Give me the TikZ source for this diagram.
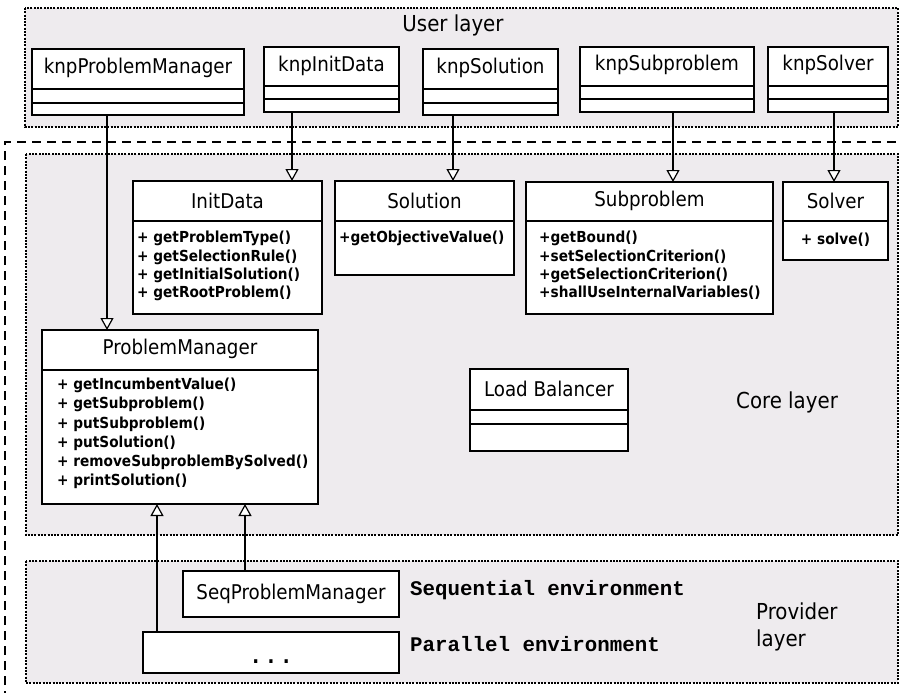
\documentclass[tikz,border=0pt]{standalone}
\usepackage{fontspec}
\setmainfont{DejaVu Sans Condensed}
\newfontfamily\codefont{Liberation Mono}
\usetikzlibrary{arrows.meta}

\definecolor{layerbg}{RGB}{238,235,238}

\tikzset{
  layerbox/.style={fill=layerbg, draw=black, line width=2.4pt, dash pattern=on 2pt off 1.3pt},
  outerframe/.style={draw=black, line width=2pt, dash pattern=on 9pt off 6pt},
  classbox/.style={draw=black, fill=white, line width=2.4pt, inner sep=0pt, outer sep=0pt, anchor=north west},
  sepline/.style={line width=2pt},
  clsname/.style={font=\fontsize{20.3}{23}\selectfont, inner sep=0pt},
  methods/.style={font=\bfseries\fontsize{15.2}{18.4}\selectfont, align=left, anchor=north west, inner sep=0pt},
  layerlabel/.style={font=\fontsize{22}{27}\selectfont, inner sep=0pt, align=left},
  envlabel/.style={font=\codefont\bfseries\fontsize{20.8}{24}\selectfont, anchor=west, inner sep=0pt},
  gen/.style={line width=1.2pt, -{Triangle[open, width=13pt, length=12pt, line width=1.2pt, fill=white]}},
  genthick/.style={gen, line width=2.2pt},
}

% class box: name, left, top, width, height
\newcommand\umlbox[5]{\node[classbox, minimum width=#4, minimum height=#5] (#1) at (#2,#3) {};}
% compartment divider across a box at a given depth
\newcommand\umlsep[2]{\draw[sepline] (#1.west |- 0,#2) -- (#1.east |- 0,#2);}

\begin{document}
\begin{tikzpicture}[x=1pt,y=-1pt]
\useasboundingbox (0,0) rectangle (902,693);

% layers
\draw[layerbox] (25,8) rectangle (898,127);
\draw[layerbox] (26,154) rectangle (898,535);
\draw[layerbox] (26,561) rectangle (898,683);
\draw[outerframe] (5,700) -- (5,142) -- (910,142);

\node[layerlabel] (userL) at (453,25) {User layer};
\node[layerlabel, anchor=west] (coreL) at (736,402) {Core layer};
\node[layerlabel, anchor=north west] (provL) at (756,603) {Provider\\layer};

% user layer classes
\umlbox{kpm}{32}{49}{212}{66}
\umlsep{kpm}{89}\umlsep{kpm}{103}
\node[clsname] (kpmT) at (138,68) {knpProblemManager};

\umlbox{kid}{264}{47}{135}{65}
\umlsep{kid}{86}\umlsep{kid}{99}
\node[clsname] (kidT) at (331.5,66) {knpInitData};

\umlbox{ksol}{423}{49}{135}{66}
\umlsep{ksol}{89}\umlsep{ksol}{103}
\node[clsname] (ksolT) at (490.5,68) {knpSolution};

\umlbox{ksub}{580}{47}{174}{65}
\umlsep{ksub}{86}\umlsep{ksub}{99}
\node[clsname] (ksubT) at (667,65) {knpSubproblem};

\umlbox{ksv}{768}{47}{120}{65}
\umlsep{ksv}{86}\umlsep{ksv}{99}
\node[clsname] (ksvT) at (828,65) {knpSolver};

% core layer classes
\umlbox{id}{133}{181}{189}{133}
\umlsep{id}{221}
\node[clsname] (idT) at (227.5,201) {InitData};
\node[methods] (idM) at (137,231) {+ getProblemType()\\+ getSelectionRule()\\+ getInitialSolution()\\+ getRootProblem()};

\umlbox{sol}{335}{181}{179}{94}
\umlsep{sol}{221}
\node[clsname] (solT) at (424.5,201) {Solution};
\node[methods] (solM) at (339,231) {+getObjectiveValue()};

\umlbox{sub}{526}{182}{247}{132}
\umlsep{sub}{221}
\node[clsname] (subT) at (649.5,201) {Subproblem};
\node[methods] (subM) at (539,231) {+getBound()\\+setSelectionCriterion()\\+getSelectionCriterion()\\+shallUseInternalVariables()};

\umlbox{sv}{783}{182}{105}{78}
\umlsep{sv}{221}
\node[clsname] (svT) at (835.5,201) {Solver};
\node[methods, anchor=center] (svM) at (835.5,240) {+ solve()};

\umlbox{pm}{42}{330}{276}{174}
\umlsep{pm}{370}
\node[clsname] (pmT) at (180,349) {ProblemManager};
\node[methods, font=\bfseries\fontsize{15.2}{19.2}\selectfont] (pmM) at (57,378) {+ getIncumbentValue()\\+ getSubproblem()\\+ putSubproblem()\\+ putSolution()\\+ removeSubproblemBySolved()\\+ printSolution()};

\umlbox{lb}{470}{369}{158}{82}
\umlsep{lb}{410}\umlsep{lb}{424}
\node[clsname] (lbT) at (549,389) {Load Balancer};

% provider layer classes
\umlbox{seq}{183}{571}{216}{46}
\node[clsname] (seqT) at (291,594) {SeqProblemManager};
\umlbox{par}{143}{632}{256}{41}
\node[font=\bfseries\fontsize{20}{22}\selectfont, inner sep=0pt] (parT) at (271,662) {. . .};

\node[envlabel] (seqE) at (410,590) {Sequential environment};
\node[envlabel] (parE) at (410,644) {Parallel environment};

% generalisation arrows
\draw[gen] (kpm.south -| 107,0) -- (pm.north -| 107,0);
\draw[gen] (kid.south -| 292,0) -- (id.north -| 292,0);
\draw[gen] (ksol.south -| 453,0) -- (sol.north -| 453,0);
\draw[genthick] (ksub.south -| 673,0) -- (sub.north -| 673,0);
\draw[genthick] (ksv.south -| 834,0) -- (sv.north -| 834,0);
\draw[gen] (par.north -| 157,0) -- (pm.south -| 157,0);
\draw[gen] (seq.north -| 245,0) -- (pm.south -| 245,0);
\end{tikzpicture}
\end{document}
